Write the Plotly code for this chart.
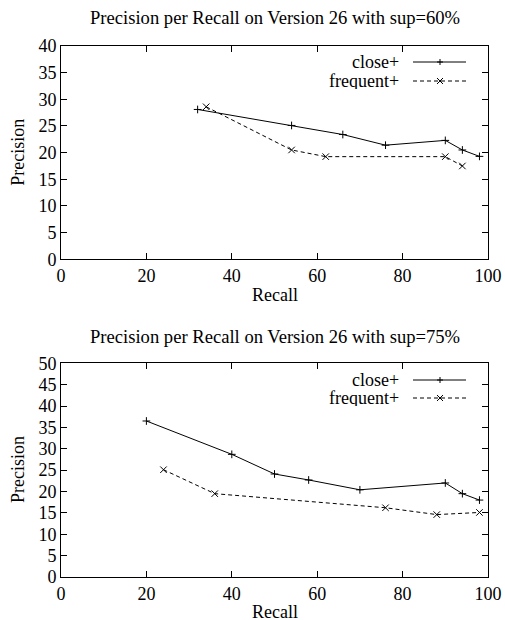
import plotly.graph_objects as go

# ---- data ----
titles = ["Precision per Recall on Version 26 with sup=60%",
          "Precision per Recall on Version 26 with sup=75%"]
series_names = ["close+", "frequent+"]

close60_recall = [32, 54, 66, 76, 90, 94, 98]
close60_prec = [28.1, 25.1, 23.4, 21.4, 22.3, 20.5, 19.3]
freq60_recall = [34, 54, 62, 90, 94]
freq60_prec = [28.6, 20.5, 19.25, 19.25, 17.5]

close75_recall = [20, 40, 50, 58, 70, 90, 94, 98]
close75_prec = [36.5, 28.7, 24.1, 22.7, 20.4, 22.0, 19.5, 18.0]
freq75_recall = [24, 36, 76, 88, 98]
freq75_prec = [25.1, 19.5, 16.2, 14.6, 15.1]

x_ticks = [0, 20, 40, 60, 80, 100]
y_ticks_top = [0, 5, 10, 15, 20, 25, 30, 35, 40]
y_ticks_bot = [0, 5, 10, 15, 20, 25, 30, 35, 40, 45, 50]

FONT = "Liberation Serif, Times New Roman, Times, DejaVu Serif, serif"
FS = 18
FS_TITLE = 18.6
W, H = 505, 620
ML, MR, MT, MB = 61, 17, 46, 43
PW = W - ML - MR
PH = H - MT - MB


def px_x(px):
    return (px - ML) / PW


def px_y(py):
    return (H - MB - py) / PH


fig = go.Figure()

line_solid = dict(color="black", width=1)
line_dash = dict(color="black", width=1, dash="4px,3px")
m_plus = dict(symbol="cross-thin", size=5.5, line=dict(color="black", width=1), color="black")
m_x = dict(symbol="x-thin", size=6.5, line=dict(color="black", width=1), color="black")

fig.add_trace(go.Scatter(x=close60_recall, y=close60_prec, mode="lines+markers",
                         line=line_solid, marker=m_plus, name=series_names[0],
                         xaxis="x", yaxis="y", showlegend=False))
fig.add_trace(go.Scatter(x=freq60_recall, y=freq60_prec, mode="lines+markers",
                         line=line_dash, marker=m_x, name=series_names[1],
                         xaxis="x", yaxis="y", showlegend=False))
fig.add_trace(go.Scatter(x=close75_recall, y=close75_prec, mode="lines+markers",
                         line=line_solid, marker=m_plus, name=series_names[0],
                         xaxis="x2", yaxis="y2", showlegend=False))
fig.add_trace(go.Scatter(x=freq75_recall, y=freq75_prec, mode="lines+markers",
                         line=line_dash, marker=m_x, name=series_names[1],
                         xaxis="x2", yaxis="y2", showlegend=False))

top_dom = [px_y(259.3), 1.0]
bot_dom = [0.0, px_y(363.3)]

axis_common = dict(showline=True, linecolor="black", linewidth=1, mirror="ticks",
                   ticks="inside", ticklen=6, tickcolor="black", tickwidth=1,
                   showgrid=False, zeroline=False, automargin=False,
                   tickfont=dict(family=FONT, size=FS, color="black"))

fig.update_layout(
    width=W, height=H, autosize=False,
    margin=dict(l=ML, r=MR, t=MT, b=MB, autoexpand=False),
    paper_bgcolor="white", plot_bgcolor="white",
    font=dict(family=FONT, size=FS, color="black"),
    xaxis=dict(domain=[0, 1], anchor="y", range=[0, 100], tickvals=x_ticks, **axis_common),
    yaxis=dict(domain=top_dom, anchor="x", range=[0, 40], tickvals=y_ticks_top, **axis_common),
    xaxis2=dict(domain=[0, 1], anchor="y2", range=[0, 100], tickvals=x_ticks, **axis_common),
    yaxis2=dict(domain=bot_dom, anchor="x2", range=[0, 50], tickvals=y_ticks_bot, **axis_common),
    showlegend=False,
)

ann = []
# titles
ann.append(dict(text=titles[0], x=0.5, y=px_y(18), xref="paper", yref="paper",
                showarrow=False, xanchor="center", yanchor="middle",
                font=dict(size=FS_TITLE)))
ann.append(dict(text=titles[1], x=0.5, y=px_y(337), xref="paper", yref="paper",
                showarrow=False, xanchor="center", yanchor="middle",
                font=dict(size=FS_TITLE)))
# axis titles
for yy in (295, 612):
    ann.append(dict(text="Recall", x=0.5, y=px_y(yy), xref="paper", yref="paper",
                    showarrow=False, xanchor="center", yanchor="middle"))
for yy in ((46 + 259.3) / 2, (363.3 + 576.7) / 2):
    ann.append(dict(text="Precision", x=px_x(18), y=px_y(yy), xref="paper", yref="paper",
                    showarrow=False, xanchor="center", yanchor="middle", textangle=-90))

shapes = []
# manual gnuplot-style legends (text left, sample right)
legend_rows = [(62, 81), (380, 398)]
for (yc, yf) in legend_rows:
    for name, yy, dash, glyph in ((series_names[0], yc, "solid", "+"),
                                  (series_names[1], yf, "4px,3px", "x")):
        ann.append(dict(text=name, x=px_x(400), y=px_y(yy), xref="paper", yref="paper",
                        showarrow=False, xanchor="right", yanchor="middle",
                        height=16, valign="middle", borderpad=0))
        shapes.append(dict(type="line", xref="paper", yref="paper",
                           x0=px_x(413), x1=px_x(466), y0=px_y(yy), y1=px_y(yy),
                           line=dict(color="black", width=1, dash=dash)))
        cx, cy, r = 440, yy, 3
        if glyph == "+":
            segs = [((cx - r, cy), (cx + r, cy)), ((cx, cy - r), (cx, cy + r))]
        else:
            segs = [((cx - r, cy - r), (cx + r, cy + r)), ((cx - r, cy + r), (cx + r, cy - r))]
        for (a, b) in segs:
            shapes.append(dict(type="line", xref="paper", yref="paper",
                               x0=px_x(a[0]), y0=px_y(a[1]), x1=px_x(b[0]), y1=px_y(b[1]),
                               line=dict(color="black", width=1)))

fig.update_layout(annotations=ann, shapes=shapes)

post = ("document.body.style.margin='0';document.body.style.overflow='hidden';"
        "var gd=document.getElementById('{plot_id}');"
        "Plotly.relayout(gd,{width:%d,height:%d});" % (W, H))

fig.write_html("out.html", config={"displayModeBar": False, "responsive": False},
               post_script=post)
